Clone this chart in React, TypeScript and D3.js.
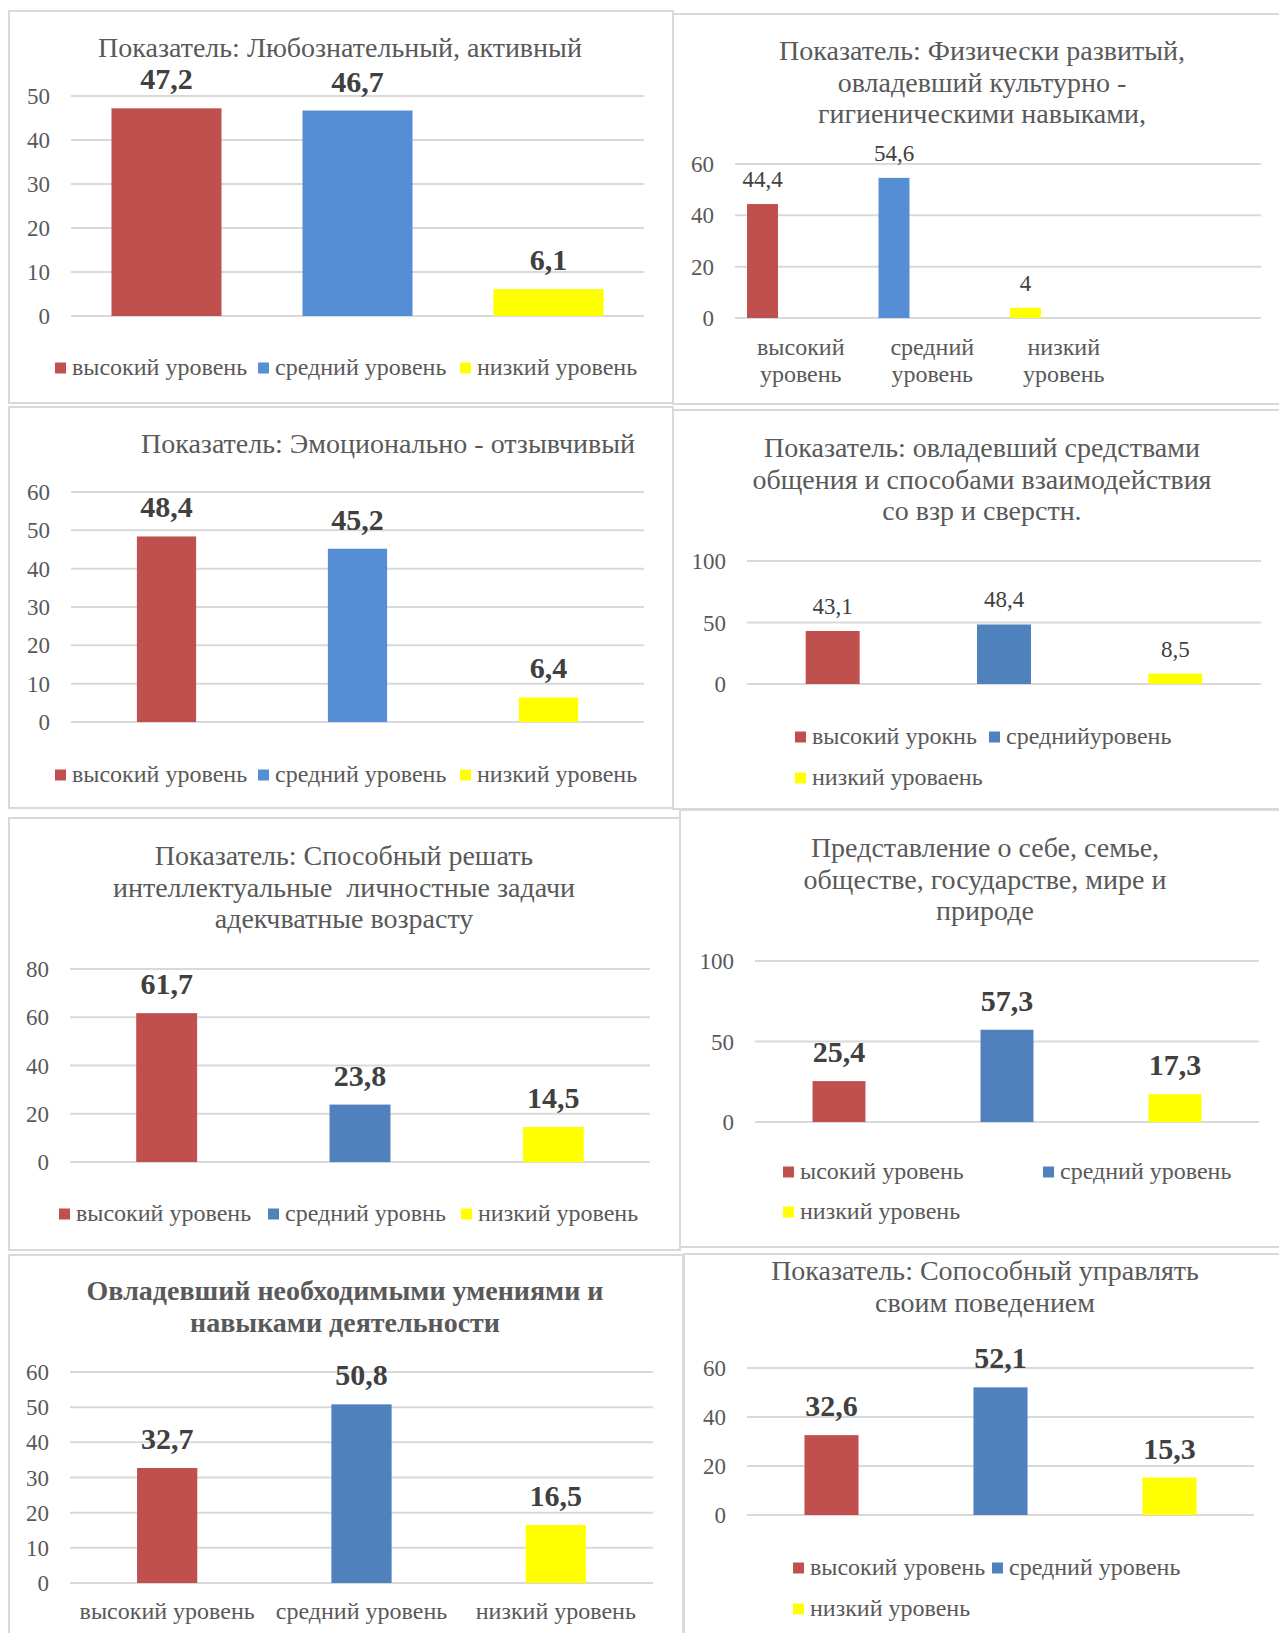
import React from "react";
import * as d3 from "d3";

// values (percent of children per level)
const curiousValues = [47.2, 46.7, 6.1];
const physicalValues = [44.4, 54.6, 4];
const emotionalValues = [48.4, 45.2, 6.4];
const communicationValues = [43.1, 48.4, 8.5];
const intellectualValues = [61.7, 23.8, 14.5];
const worldValues = [25.4, 57.3, 17.3];
const skillsValues = [32.7, 50.8, 16.5];
const behaviourValues = [32.6, 52.1, 15.3];

// titles
const curiousTitle = ["Показатель: Любознательный, активный"];
const physicalTitle = [
  "Показатель: Физически развитый,",
  "овладевший культурно -",
  "гигиеническими навыками,",
];
const emotionalTitle = ["Показатель: Эмоционально - отзывчивый"];
const communicationTitle = [
  "Показатель: овладевший средствами",
  "общения и способами взаимодействия",
  "со взр и сверстн.",
];
const intellectualTitle = [
  "Показатель: Способный решать",
  "интеллектуальные  личностные задачи",
  "адекчватные возрасту",
];
const worldTitle = [
  "Представление о себе, семье,",
  "обществе, государстве, мире и",
  "природе",
];
const skillsTitle = ["Овладевший необходимыми умениями и", "навыками деятельности"];
const behaviourTitle = ["Показатель: Сопособный управлять", "своим поведением"];

// legends / category labels (spelled as in the source)
const levelLegend = ["высокий уровень", "средний уровень", "низкий уровень"];
const communicationLegend = ["высокий урокнь", "среднийуровень", "низкий уроваень"];
const intellectualLegend = ["высокий уровень", "средний уровнь", "низкий уровень"];
const worldLegend = ["ысокий уровень", "средний уровень", "низкий уровень"];
const physicalCategories = [
  ["высокий", "уровень"],
  ["средний", "уровень"],
  ["низкий", "уровень"],
];
const skillsCategories = [["высокий уровень"], ["средний уровень"], ["низкий уровень"]];

// y axis ticks
const ticks10to50 = [0, 10, 20, 30, 40, 50];
const ticks20to60 = [0, 20, 40, 60];
const ticks10to60 = [0, 10, 20, 30, 40, 50, 60];
const ticks50to100 = [0, 50, 100];
const ticks20to80 = [0, 20, 40, 60, 80];

const FONT = "'Liberation Serif', 'Times New Roman', serif";
const RED = "#C0504D";
const LIGHT_BLUE = "#558ED5";
const BLUE = "#4F81BD";
const YELLOW = "#FFFF00";
const GRID = "#d9d9d9";
const TEXT = "#595959";
const LABEL = "#404040";

const panels = [
  {
    box: [9, 11, 664, 392], title: curiousTitle, titleX: 340, titleY: 57,
    plot: { left: 71, right: 644, top: 96, bottom: 316 }, ticks: ticks10to50,
    values: curiousValues, pad: 0.424, blue: LIGHT_BLUE, bold: true,
    legend: levelLegend, legendPos: [[55, 368], [258, 368], [460, 368]],
  },
  {
    box: [673, 14, 620, 390], title: physicalTitle, titleX: 982, titleY: 60,
    plot: { left: 735, right: 1261, top: 164, bottom: 318 }, ticks: ticks20to60,
    values: physicalValues, slots: 4, blue: LIGHT_BLUE, bold: false,
    categories: physicalCategories, catY: 355,
  },
  {
    box: [9, 407, 664, 401], title: emotionalTitle, titleX: 388, titleY: 453,
    plot: { left: 71, right: 644, top: 492, bottom: 722 }, ticks: ticks10to60,
    values: emotionalValues, pad: 0.69, blue: LIGHT_BLUE, bold: true,
    legend: levelLegend, legendPos: [[55, 775], [258, 775], [460, 775]],
  },
  {
    box: [673, 410, 620, 399], title: communicationTitle, titleX: 982, titleY: 457,
    plot: { left: 747, right: 1261, top: 561, bottom: 684 }, ticks: ticks50to100,
    values: communicationValues, pad: 0.685, blue: BLUE, bold: false,
    legend: communicationLegend, legendPos: [[795, 737], [989, 737], [795, 778]],
  },
  {
    box: [9, 818, 671, 432], title: intellectualTitle, titleX: 344, titleY: 865,
    plot: { left: 70, right: 650, top: 969, bottom: 1162 }, ticks: ticks20to80,
    values: intellectualValues, pad: 0.685, blue: BLUE, bold: true,
    legend: intellectualLegend, legendPos: [[59, 1214], [268, 1214], [461, 1214]],
  },
  {
    box: [680, 810, 620, 437], title: worldTitle, titleX: 985, titleY: 857,
    plot: { left: 755, right: 1259, top: 961, bottom: 1122 }, ticks: ticks50to100,
    values: worldValues, pad: 0.685, blue: BLUE, bold: true,
    legend: worldLegend, legendPos: [[783, 1172], [1043, 1172], [783, 1212]],
  },
  {
    box: [9, 1255, 674, 400], title: skillsTitle, titleX: 345, titleY: 1300, titleBold: true,
    plot: { left: 70, right: 653, top: 1372, bottom: 1583 }, ticks: ticks10to60,
    values: skillsValues, pad: 0.69, blue: BLUE, bold: true,
    categories: skillsCategories, catY: 1619,
  },
  {
    box: [684, 1254, 620, 400], title: behaviourTitle, titleX: 985, titleY: 1280,
    plot: { left: 747, right: 1254, top: 1368, bottom: 1515 }, ticks: ticks20to60,
    values: behaviourValues, pad: 0.68, blue: BLUE, bold: true,
    legend: levelLegend, legendPos: [[793, 1568], [992, 1568], [793, 1609]],
  },
];

const Panel = ({ p }) => {
  const [bx, by, bw, bh] = p.box;
  const { left, right, top, bottom } = p.plot;
  const max = p.ticks[p.ticks.length - 1];
  const y = d3.scaleLinear().domain([0, max]).range([bottom, top]);
  const slots = p.slots ?? p.values.length;
  const x = d3
    .scaleBand()
    .domain(d3.range(slots))
    .range([left, right])
    .paddingInner(p.slots ? 0 : p.pad)
    .paddingOuter(p.slots ? 0 : p.pad / 2);
  // clustered layout (second series empty) for the chart with a spare slot
  const inner = d3
    .scaleBand()
    .domain(["value", "empty"])
    .range([0, x.step()])
    .paddingInner(0.595)
    .paddingOuter(0.157);
  const barX = (i) => (p.slots ? x(i) + inner("value") : x(i));
  const barW = p.slots ? inner.bandwidth() : x.bandwidth();
  const colors = [RED, p.blue, YELLOW];

  return (
    <g>
      <rect x={bx} y={by} width={bw} height={bh} fill="#fff" stroke={GRID} strokeWidth={2} />
      {p.title.map((line, i) => (
        <text
          key={i}
          x={p.titleX}
          y={p.titleY + i * 31.5}
          textAnchor="middle"
          fontSize={28}
          fontWeight={p.titleBold ? "bold" : "normal"}
          fill={TEXT}
          style={{ whiteSpace: "pre" }}
        >
          {line}
        </text>
      ))}
      {p.ticks.map((t) => (
        <g key={t}>
          <line x1={left} x2={right} y1={y(t)} y2={y(t)} stroke={GRID} strokeWidth={2} />
          <text x={left - 21} y={y(t) + 8} textAnchor="end" fontSize={23} fill={TEXT}>
            {t}
          </text>
        </g>
      ))}
      {p.values.map((v, i) => (
        <g key={i}>
          <rect x={barX(i)} y={y(v)} width={barW} height={y(0) - y(v)} fill={colors[i]} />
          <text
            x={barX(i) + barW / 2}
            y={y(v) - (p.bold ? 19 : 17)}
            textAnchor="middle"
            fontSize={p.bold ? 30 : 23}
            fontWeight={p.bold ? "bold" : "normal"}
            fill={LABEL}
          >
            {String(v).replace(".", ",")}
          </text>
        </g>
      ))}
      {p.legend &&
        p.legend.map((name, i) => (
          <g key={name + i}>
            <rect x={p.legendPos[i][0]} y={p.legendPos[i][1] - 5.5} width={11} height={11} fill={colors[i]} />
            <text x={p.legendPos[i][0] + 17} y={p.legendPos[i][1] + 7} fontSize={24} fill={TEXT}>
              {name}
            </text>
          </g>
        ))}
      {p.categories &&
        p.categories.map((lines, i) =>
          lines.map((line, j) => (
            <text
              key={i + "-" + j}
              x={x(i) + x.bandwidth() / 2}
              y={p.catY + j * 27}
              textAnchor="middle"
              fontSize={24}
              fill={TEXT}
            >
              {line}
            </text>
          ))
        )}
    </g>
  );
};

const App = () => {
  return (
    <svg
      width={1279}
      height={1633}
      style={{ position: "absolute", left: 0, top: 0, background: "#fff" }}
      fontFamily={FONT}
    >
      <rect x={0} y={0} width={1279} height={1633} fill="#fff" />
      {panels.map((p, i) => (
        <Panel key={i} p={p} />
      ))}
    </svg>
  );
};

export default App;
